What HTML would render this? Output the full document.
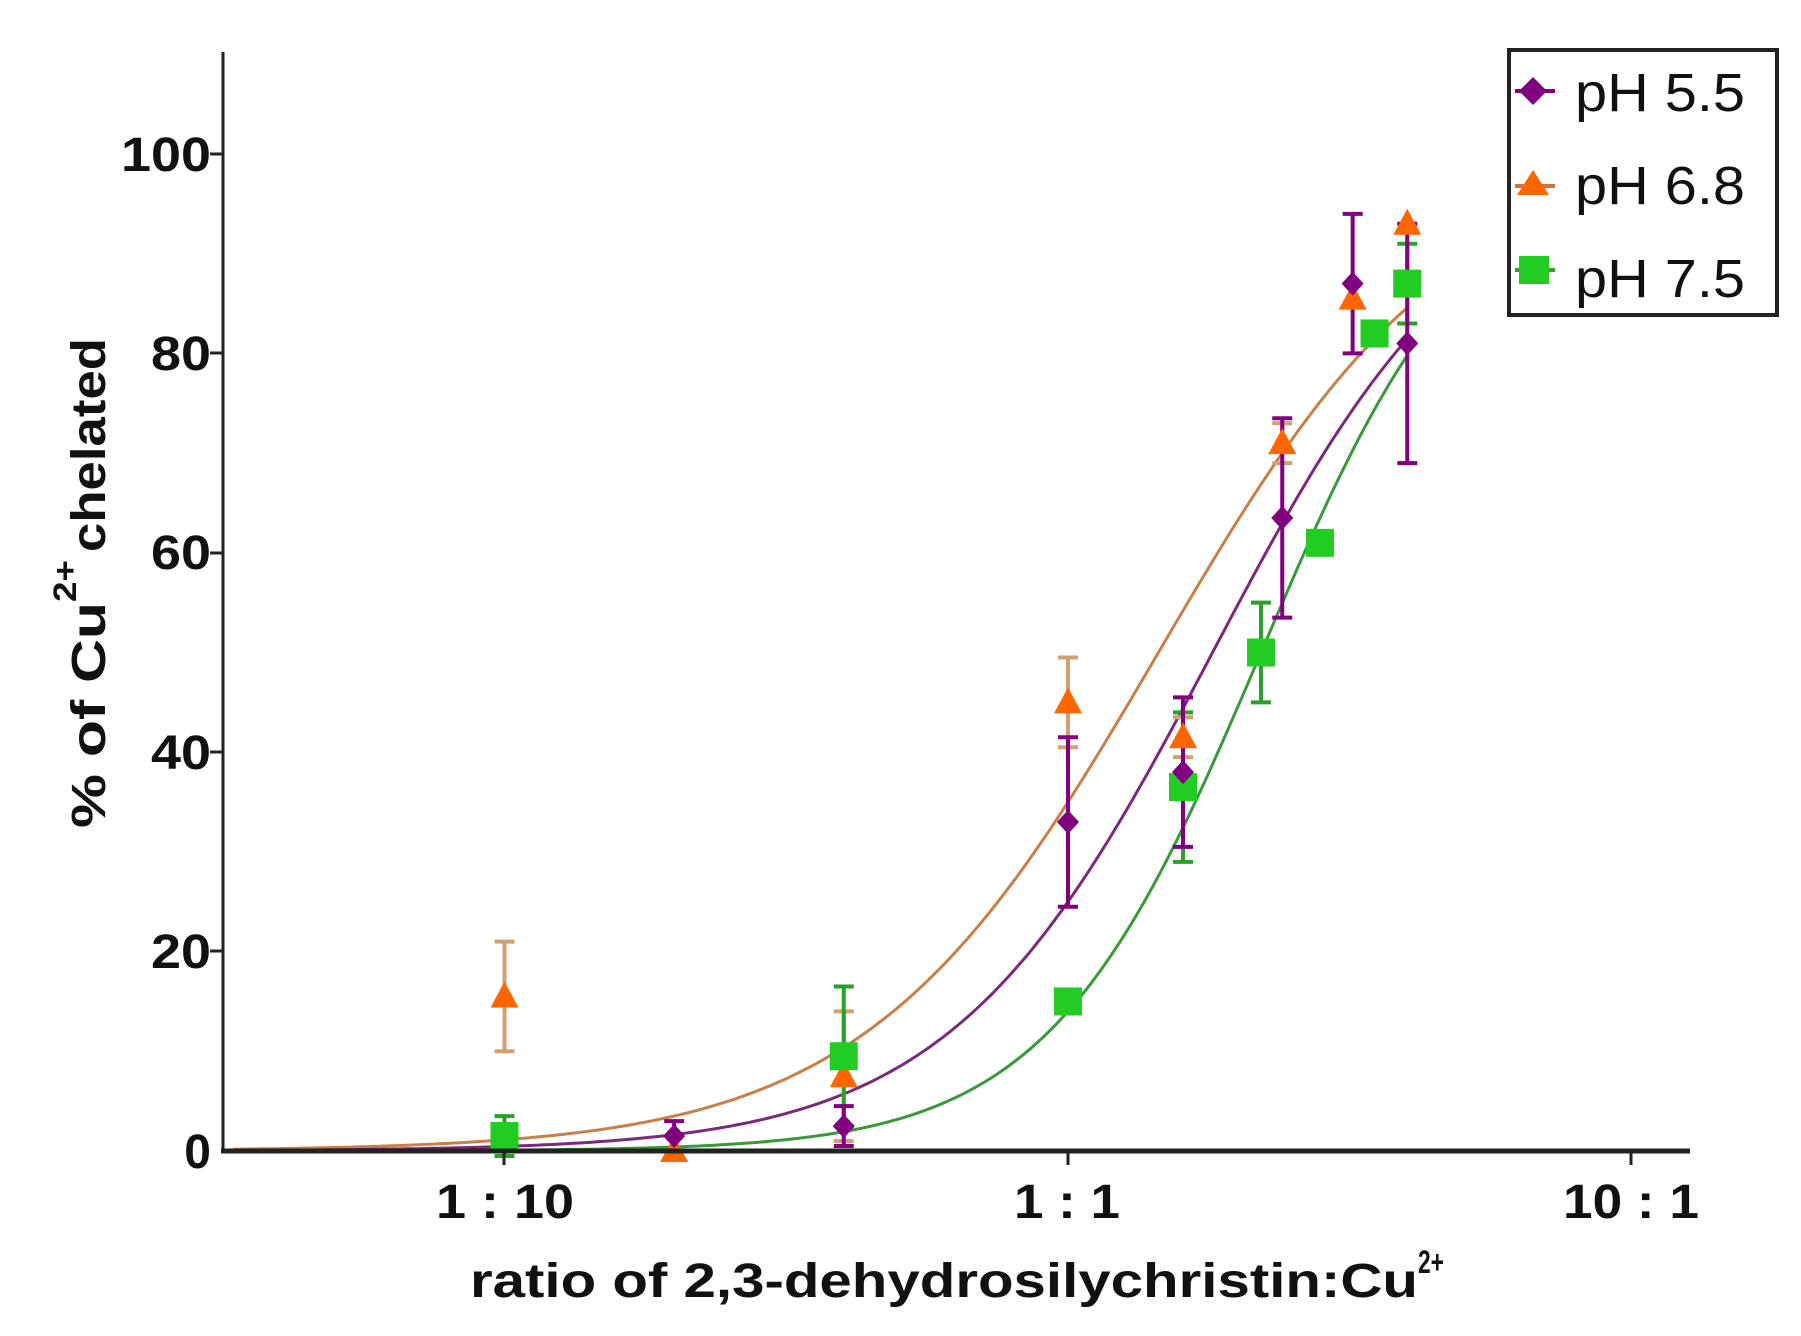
<!DOCTYPE html>
<html><head><meta charset="utf-8"><style>
html,body{margin:0;padding:0;background:#fff;}
svg{display:block;font-family:"Liberation Sans",Arial,sans-serif;}
</style></head><body>
<svg id="s" width="1801" height="1336" viewBox="0 0 1801 1336" xmlns="http://www.w3.org/2000/svg">
<rect width="1801" height="1336" fill="#fff"/>
<g id="plot"></g>
<line x1="223" y1="52" x2="223" y2="1153" stroke="#222" stroke-width="3"/>
<line x1="221" y1="1151" x2="1690" y2="1151" stroke="#222" stroke-width="5"/>
<g font-weight="bold" font-size="48" fill="#111" text-anchor="end">
<text x="211" y="171" textLength="90" lengthAdjust="spacingAndGlyphs">100</text>
<text x="211" y="370" textLength="60" lengthAdjust="spacingAndGlyphs">80</text>
<text x="211" y="569" textLength="60" lengthAdjust="spacingAndGlyphs">60</text>
<text x="211" y="769" textLength="60" lengthAdjust="spacingAndGlyphs">40</text>
<text x="211" y="968" textLength="60" lengthAdjust="spacingAndGlyphs">20</text>
<text x="211" y="1168">0</text>
</g>
<g stroke="#222" stroke-width="3">
<line x1="210" y1="154" x2="223" y2="154"/><line x1="210" y1="353" x2="223" y2="353"/>
<line x1="210" y1="553" x2="223" y2="553"/><line x1="210" y1="752" x2="223" y2="752"/>
<line x1="210" y1="951" x2="223" y2="951"/>
<line x1="504" y1="1151" x2="504" y2="1165"/><line x1="1068" y1="1151" x2="1068" y2="1165"/><line x1="1631" y1="1151" x2="1631" y2="1165"/>
</g>
<g font-weight="bold" font-size="48" fill="#111">
<text x="436" y="1218" textLength="138" lengthAdjust="spacingAndGlyphs">1 : 10</text>
<text x="1014" y="1218" textLength="106" lengthAdjust="spacingAndGlyphs">1 : 1</text>
<text x="1563" y="1218" textLength="136" lengthAdjust="spacingAndGlyphs">10 : 1</text>
<text x="470" y="1297" textLength="948" lengthAdjust="spacingAndGlyphs">ratio of 2,3-dehydrosilychristin:Cu</text>
<text x="1418" y="1273" font-size="32" textLength="26" lengthAdjust="spacingAndGlyphs">2+</text>
<text transform="translate(105,828) rotate(-90)" textLength="226" lengthAdjust="spacingAndGlyphs">% of Cu</text>
<text transform="translate(76,602) rotate(-90)" font-size="32" textLength="42" lengthAdjust="spacingAndGlyphs">2+</text>
<text transform="translate(105,552) rotate(-90)" textLength="214" lengthAdjust="spacingAndGlyphs">chelated</text>
</g>
<rect x="1509" y="50" width="268" height="265" fill="#fff" stroke="#222" stroke-width="4"/>
<g font-size="54" fill="#111">
<text x="1575" y="111" textLength="170" lengthAdjust="spacingAndGlyphs">pH 5.5</text>
<text x="1575" y="204" textLength="170" lengthAdjust="spacingAndGlyphs">pH 6.8</text>
<text x="1575" y="297" textLength="170" lengthAdjust="spacingAndGlyphs">pH 7.5</text>
</g>
<line x1="1515" y1="91" x2="1555" y2="91" stroke="#800080" stroke-width="4"/>
<polygon points="1533,77 1547,91 1533,105 1519,91" fill="#800080"/>
<line x1="1515" y1="186" x2="1555" y2="186" stroke="#c87840" stroke-width="4"/>
<polygon points="1533,170 1549,195 1517,195" fill="#ff6600"/>
<line x1="1515" y1="270" x2="1555" y2="270" stroke="#3a9a3a" stroke-width="4"/>
<rect x="1519" y="256" width="30" height="28" fill="#22cc22"/>
</svg>
<script>
const X=r=>1068+563.5*Math.log10(r), Y=v=>1151-v*9.97;
const g=document.getElementById('plot');let h='';
function curve(k,n,col){let d='';for(let i=0;i<=200;i++){const lx=Math.log10(0.033)+i*(Math.log10(4)-Math.log10(0.033))/200;const x=Math.pow(10,lx);const y=100*Math.pow(x,n)/(k+Math.pow(x,n));d+=(i?'L':'M')+X(x).toFixed(1)+','+Y(y).toFixed(1);}h+=`<path d="${d}" fill="none" stroke="${col}" stroke-width="3"/>`;}
curve(1.857,1.675,'#c8804a');curve(3,1.86,'#7a2a7a');curve(6.14,2.3,'#3a9a3a');
function eb(r,v,e,col){if(!e)return;const x=X(r);h+=`<path d="M${x},${Y(v-e)}V${Y(v+e)}M${x-10},${Y(v-e)}h20M${x-10},${Y(v+e)}h20" stroke="${col}" stroke-width="4" fill="none"/>`;}
const P=[[0.2,1.5,1.5],[0.4,2.5,2],[1,33,8.5],[1.6,38,7.5],[2.4,63.5,10],[3.2,87,7],[4,81,12]];
const O=[[0.1,15.5,5.5],[0.2,0,0],[0.4,7.5,6.5],[1,45,4.5],[1.6,41.5,2],[2.4,71,2],[3.2,85.5,0],[4,93,0]];
const G=[[0.1,1.5,2],[0.4,9.5,7],[1,15,0],[1.6,36.5,7.5],[2.2,50,5],[2.8,61,0],[3.5,82,0],[4,87,4]];
O.forEach(p=>eb(p[0],p[1],p[2],'#d0a070'));
G.forEach(p=>eb(p[0],p[1],p[2],'#2aa02a'));
P.forEach(p=>eb(p[0],p[1],p[2],'#800080'));
O.forEach(p=>{const x=X(p[0]),y=Y(p[1]);h+=`<polygon points="${x},${y-15} ${x+14},${y+11} ${x-14},${y+11}" fill="#ff6600"/>`;});
G.forEach(p=>{const x=X(p[0]),y=Y(p[1]);h+=`<rect x="${x-14}" y="${y-14}" width="28" height="28" fill="#22cc22"/>`;});
P.forEach(p=>{const x=X(p[0]),y=Y(p[1]);h+=`<polygon points="${x},${y-12} ${x+11},${y} ${x},${y+12} ${x-11},${y}" fill="#800080"/>`;});
g.innerHTML=h;
</script>
</body></html>
